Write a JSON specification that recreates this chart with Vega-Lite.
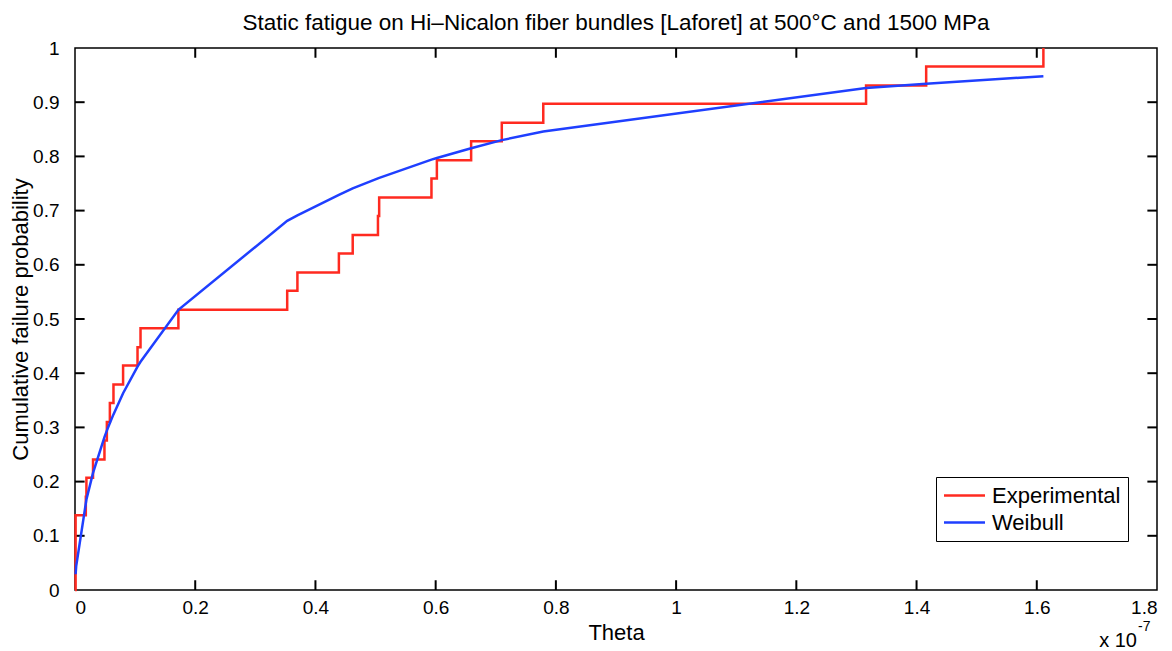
{
  "$schema": "https://vega.github.io/schema/vega-lite/v6.json",
  "width": 1082,
  "height": 542,
  "autosize": "none",
  "padding": {"left": 75, "top": 48, "right": 15, "bottom": 61},
  "background": "white",
  "title": {
    "text": "Static fatigue on Hi–Nicalon fiber bundles [Laforet] at 500°C and 1500 MPa",
    "font": "Liberation Sans",
    "fontSize": 22.5,
    "fontWeight": "normal",
    "color": "black",
    "offset": 5
  },
  "datasets": {
    "exp": [
      {"theta": 0, "p": 0, "series": "Experimental"},
      {"theta": 0.001, "p": 0.138, "series": "Experimental"},
      {"theta": 0.018, "p": 0.172, "series": "Experimental"},
      {"theta": 0.019, "p": 0.207, "series": "Experimental"},
      {"theta": 0.030, "p": 0.241, "series": "Experimental"},
      {"theta": 0.049, "p": 0.276, "series": "Experimental"},
      {"theta": 0.053, "p": 0.310, "series": "Experimental"},
      {"theta": 0.058, "p": 0.345, "series": "Experimental"},
      {"theta": 0.064, "p": 0.379, "series": "Experimental"},
      {"theta": 0.080, "p": 0.414, "series": "Experimental"},
      {"theta": 0.104, "p": 0.448, "series": "Experimental"},
      {"theta": 0.109, "p": 0.483, "series": "Experimental"},
      {"theta": 0.172, "p": 0.517, "series": "Experimental"},
      {"theta": 0.353, "p": 0.552, "series": "Experimental"},
      {"theta": 0.370, "p": 0.586, "series": "Experimental"},
      {"theta": 0.439, "p": 0.621, "series": "Experimental"},
      {"theta": 0.462, "p": 0.655, "series": "Experimental"},
      {"theta": 0.504, "p": 0.690, "series": "Experimental"},
      {"theta": 0.506, "p": 0.724, "series": "Experimental"},
      {"theta": 0.593, "p": 0.759, "series": "Experimental"},
      {"theta": 0.602, "p": 0.793, "series": "Experimental"},
      {"theta": 0.659, "p": 0.828, "series": "Experimental"},
      {"theta": 0.710, "p": 0.862, "series": "Experimental"},
      {"theta": 0.779, "p": 0.897, "series": "Experimental"},
      {"theta": 1.316, "p": 0.931, "series": "Experimental"},
      {"theta": 1.416, "p": 0.966, "series": "Experimental"},
      {"theta": 1.611, "p": 1.0, "series": "Experimental"}
    ],
    "weib": [
      {"theta": 0.001, "p": 0.029, "series": "Weibull"},
      {"theta": 0.002, "p": 0.044, "series": "Weibull"},
      {"theta": 0.019, "p": 0.167, "series": "Weibull"},
      {"theta": 0.030, "p": 0.216, "series": "Weibull"},
      {"theta": 0.049, "p": 0.282, "series": "Weibull"},
      {"theta": 0.053, "p": 0.294, "series": "Weibull"},
      {"theta": 0.058, "p": 0.308, "series": "Weibull"},
      {"theta": 0.064, "p": 0.324, "series": "Weibull"},
      {"theta": 0.080, "p": 0.363, "series": "Weibull"},
      {"theta": 0.104, "p": 0.412, "series": "Weibull"},
      {"theta": 0.109, "p": 0.421, "series": "Weibull"},
      {"theta": 0.172, "p": 0.517, "series": "Weibull"},
      {"theta": 0.353, "p": 0.681, "series": "Weibull"},
      {"theta": 0.370, "p": 0.691, "series": "Weibull"},
      {"theta": 0.439, "p": 0.729, "series": "Weibull"},
      {"theta": 0.462, "p": 0.741, "series": "Weibull"},
      {"theta": 0.505, "p": 0.760, "series": "Weibull"},
      {"theta": 0.593, "p": 0.794, "series": "Weibull"},
      {"theta": 0.602, "p": 0.797, "series": "Weibull"},
      {"theta": 0.659, "p": 0.815, "series": "Weibull"},
      {"theta": 0.710, "p": 0.830, "series": "Weibull"},
      {"theta": 0.779, "p": 0.846, "series": "Weibull"},
      {"theta": 1.316, "p": 0.926, "series": "Weibull"},
      {"theta": 1.416, "p": 0.934, "series": "Weibull"},
      {"theta": 1.611, "p": 0.948, "series": "Weibull"}
    ],
    "xticks": [{"v": 0.2}, {"v": 0.4}, {"v": 0.6}, {"v": 0.8}, {"v": 1.0}, {"v": 1.2}, {"v": 1.4}, {"v": 1.6}],
    "yticks": [{"v": 0.1}, {"v": 0.2}, {"v": 0.3}, {"v": 0.4}, {"v": 0.5}, {"v": 0.6}, {"v": 0.7}, {"v": 0.8}, {"v": 0.9}]
  },
  "layer": [
    {
      "data": {"name": "xticks"},
      "mark": {"type": "rule", "color": "black", "strokeWidth": 2},
      "encoding": {
        "x": {"field": "v", "type": "quantitative"},
        "y": {"datum": 0, "type": "quantitative"},
        "y2": {"datum": 0.018}
      }
    },
    {
      "data": {"name": "xticks"},
      "mark": {"type": "rule", "color": "black", "strokeWidth": 2},
      "encoding": {
        "x": {"field": "v", "type": "quantitative"},
        "y": {"datum": 1, "type": "quantitative"},
        "y2": {"datum": 0.982}
      }
    },
    {
      "data": {"name": "yticks"},
      "mark": {"type": "rule", "color": "black", "strokeWidth": 2},
      "encoding": {
        "y": {"field": "v", "type": "quantitative"},
        "x": {"datum": 0, "type": "quantitative"},
        "x2": {"datum": 0.016}
      }
    },
    {
      "data": {"name": "yticks"},
      "mark": {"type": "rule", "color": "black", "strokeWidth": 2},
      "encoding": {
        "y": {"field": "v", "type": "quantitative"},
        "x": {"datum": 1.8, "type": "quantitative"},
        "x2": {"datum": 1.784}
      }
    },
    {
      "data": {"name": "exp"},
      "mark": {"type": "line", "interpolate": "step-after", "strokeWidth": 2.5, "clip": false},
      "encoding": {
        "x": {
          "field": "theta", "type": "quantitative",
          "scale": {"domain": [0, 1.8], "nice": false, "zero": false},
          "axis": {
            "orient": "bottom", "title": "Theta", "values": [0, 0.2, 0.4, 0.6, 0.8, 1, 1.2, 1.4, 1.6, 1.8],
            "format": ".1~f", "ticks": false, "tickSize": 0,
            "labelPadding": 8, "titlePadding": 5
          }
        },
        "y": {
          "field": "p", "type": "quantitative",
          "scale": {"domain": [0, 1], "nice": false},
          "axis": {
            "orient": "left", "title": "Cumulative failure probability",
            "values": [0, 0.1, 0.2, 0.3, 0.4, 0.5, 0.6, 0.7, 0.8, 0.9, 1],
            "format": ".1~f", "ticks": false, "tickSize": 0,
            "labelPadding": 16, "titlePadding": 0
          }
        },
        "color": {
          "field": "series", "type": "nominal",
          "scale": {"domain": ["Experimental", "Weibull"], "range": ["#ff2a20", "#1f3fff"]},
          "legend": {
            "orient": "none", "legendX": 861, "legendY": 429, "title": null,
            "symbolType": "M-2,0H2", "symbolSize": 420, "symbolStrokeWidth": 2.5, "symbolOffset": 10,
            "labelFontSize": 22, "labelFont": "Liberation Sans", "labelColor": "black",
            "strokeColor": "black", "fillColor": "white", "padding": 7, "labelOffset": 16,
            "rowPadding": 4
          }
        }
      }
    },
    {
      "data": {"name": "weib"},
      "mark": {"type": "line", "strokeWidth": 2.5},
      "encoding": {
        "x": {"field": "theta", "type": "quantitative"},
        "y": {"field": "p", "type": "quantitative"},
        "color": {"field": "series", "type": "nominal"}
      }
    },
    {
      "data": {"values": [{"note": "x 10"}]},
      "mark": {"type": "text", "align": "right", "baseline": "alphabetic", "dx": -20, "dy": 57, "fontSize": 20, "font": "Liberation Sans", "color": "black"},
      "encoding": {
        "text": {"field": "note"},
        "x": {"datum": 1.8, "type": "quantitative"},
        "y": {"datum": 0, "type": "quantitative"}
      }
    },
    {
      "data": {"values": [{"note": "-7"}]},
      "mark": {"type": "text", "align": "left", "baseline": "alphabetic", "dx": -19, "dy": 41, "fontSize": 14, "font": "Liberation Sans", "color": "black"},
      "encoding": {
        "text": {"field": "note"},
        "x": {"datum": 1.8, "type": "quantitative"},
        "y": {"datum": 0, "type": "quantitative"}
      }
    }
  ],
  "config": {
    "view": {"stroke": "black", "strokeWidth": 1.5},
    "axis": {
      "grid": false, "domain": false,
      "labelFont": "Liberation Sans", "labelFontSize": 19, "labelColor": "black",
      "titleFont": "Liberation Sans", "titleFontSize": 22, "titleFontWeight": "normal", "titleColor": "black"
    }
  }
}
